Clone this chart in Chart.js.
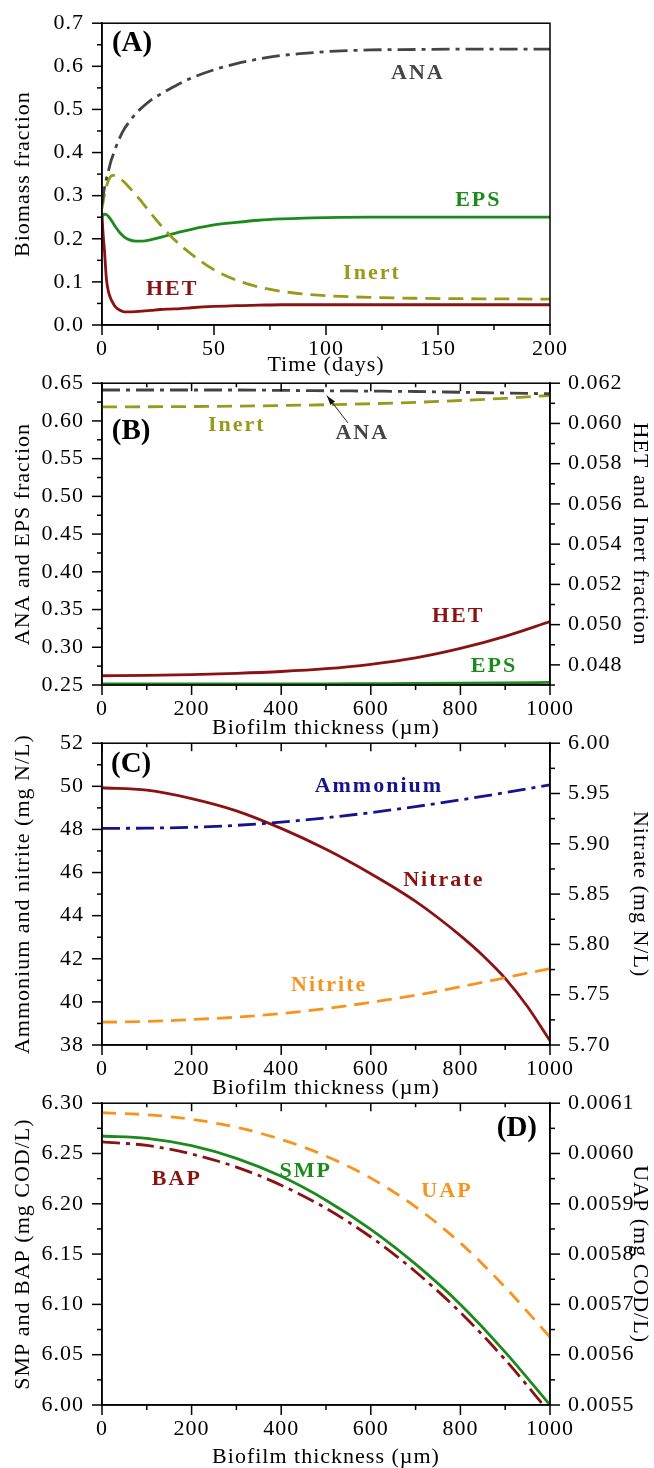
<!DOCTYPE html>
<html>
<head>
<meta charset="utf-8">
<script src="https://cdn.jsdelivr.net/npm/chart.js@4.4.1/dist/chart.umd.min.js"></script>
<style>
  html, body { margin: 0; padding: 0; background: #fff; }
  body { width: 654px; height: 1468px; position: relative; overflow: hidden; }
  .panel { position: absolute; left: 0; width: 654px; }
</style>
</head>
<body>
<div class="panel" style="top:0px;height:385px"><canvas id="chartA"></canvas></div>
<div class="panel" style="top:360px;height:385px"><canvas id="chartB"></canvas></div>
<div class="panel" style="top:720px;height:385px"><canvas id="chartC"></canvas></div>
<div class="panel" style="top:1080px;height:388px"><canvas id="chartD"></canvas></div>
<script>
const FONT = '"Liberation Serif", "Times New Roman", serif';

// (A) biomass fractions over time
const timeA  = [0, 0.5, 1, 2, 3, 4, 5, 6, 8, 10, 12, 15, 18, 22, 26, 30, 35, 40, 50, 60, 70, 80, 90, 100, 120, 140, 160, 180, 200];
const anaA   = [0.28, 0.30, 0.315, 0.34, 0.36, 0.38, 0.395, 0.41, 0.435, 0.455, 0.47, 0.49, 0.505, 0.522, 0.535, 0.547, 0.561, 0.573, 0.592, 0.606, 0.617, 0.625, 0.63, 0.634, 0.638, 0.639, 0.64, 0.64, 0.64];
const epsA   = [0.25, 0.255, 0.257, 0.256, 0.251, 0.244, 0.236, 0.228, 0.214, 0.204, 0.198, 0.1945, 0.1945, 0.198, 0.203, 0.209, 0.216, 0.222, 0.232, 0.238, 0.243, 0.246, 0.248, 0.249, 0.25, 0.25, 0.25, 0.25, 0.25];
const hetA   = [0.255, 0.21, 0.18, 0.105, 0.075, 0.06, 0.05, 0.042, 0.034, 0.0305, 0.0305, 0.031, 0.032, 0.034, 0.036, 0.037, 0.038, 0.04, 0.043, 0.045, 0.046, 0.047, 0.047, 0.047, 0.047, 0.047, 0.047, 0.047, 0.047];
const inertA = [0.27, 0.285, 0.3, 0.322, 0.337, 0.345, 0.347, 0.346, 0.34, 0.331, 0.32, 0.303, 0.284, 0.258, 0.233, 0.21, 0.185, 0.164, 0.128, 0.104, 0.088, 0.078, 0.072, 0.068, 0.064, 0.062, 0.061, 0.0605, 0.06];

// (B)-(D) profiles along biofilm thickness
const depth = [0, 100, 200, 300, 400, 500, 600, 700, 800, 900, 1000];
const anaB   = [0.641, 0.641, 0.641, 0.641, 0.6405, 0.640, 0.6395, 0.639, 0.638, 0.637, 0.636];
const epsB   = [0.2513, 0.2513, 0.2513, 0.2514, 0.2515, 0.2516, 0.2518, 0.252, 0.2523, 0.2528, 0.2535];
const hetB   = [0.04746, 0.04748, 0.04752, 0.04758, 0.04767, 0.04781, 0.04803, 0.04835, 0.04882, 0.04942, 0.05015];
const inertB = [0.06082, 0.06083, 0.06084, 0.06086, 0.06089, 0.06093, 0.06098, 0.06105, 0.06114, 0.06125, 0.06139];

const ammoniumC = [48.05, 48.06, 48.10, 48.19, 48.34, 48.54, 48.78, 49.06, 49.37, 49.71, 50.07];
const nitriteC  = [39.06, 39.09, 39.18, 39.29, 39.46, 39.69, 39.98, 40.31, 40.70, 41.12, 41.55];
const depthNitrate = [0, 100, 200, 300, 400, 500, 600, 650, 700, 750, 800, 850, 900, 950, 1000];
const nitrateC  = [5.9557, 5.9533, 5.945, 5.9328, 5.9153, 5.8945, 5.8703, 5.857, 5.8427, 5.8265, 5.8087, 5.789, 5.7662, 5.738, 5.7042];

const smpD = [6.2674, 6.2651, 6.2578, 6.2452, 6.2273, 6.2036, 6.1746, 6.140, 6.100, 6.0526, 6.0];
const bapD = [6.2615, 6.258, 6.2495, 6.2365, 6.2185, 6.1955, 6.167, 6.1325, 6.092, 6.045, 5.992];
const uapD = [0.006081, 0.006077, 0.006068, 0.006052, 0.006028, 0.005995, 0.005951, 0.005894, 0.005822, 0.005734, 0.005635];

const C_ANA = '#444444', C_EPS = '#1d8a1d', C_HET = '#8a1212', C_INERT = '#9a9a1a';
const C_NH4 = '#14148c', C_NO2 = '#f7941e';
const DASH = [15, 8], DASHDOT = [18, 6, 4, 6];

Chart.defaults.font.family = FONT;
Chart.defaults.font.size = 22;
Chart.defaults.color = '#000';

function pts(xs, ys) { return xs.map((x, i) => ({ x: x, y: ys[i] })); }

function series(label, xs, ys, color, dash, axis) {
  return {
    label: label, data: pts(xs, ys), borderColor: color, borderWidth: 2.8,
    borderDash: dash || [], pointRadius: 0, cubicInterpolationMode: 'monotone',
    yAxisID: axis || 'y', fill: false
  };
}

function xScale(min, max, step, title, titlePad, height) {
  return {
    type: 'linear', min: min, max: max,
    ticks: { stepSize: step, padding: 3, maxRotation: 0, autoSkip: false, includeBounds: false,
             callback: v => v.toFixed(0) },
    grid: { display: false },
    border: { display: true, color: '#000', width: 1.5 },
    title: { display: true, text: title, font: { size: 22, lineHeight: 1 }, padding: { top: 0, bottom: titlePad } },
    afterFit: s => { s.height = height; }
  };
}

function yScale(position, min, max, step, digits, title, titlePad, width) {
  return {
    type: 'linear', position: position, min: min, max: max,
    ticks: { stepSize: step, padding: 10, autoSkip: false, includeBounds: false,
             callback: v => v.toFixed(digits) },
    grid: { display: false },
    border: { display: true, color: '#000', width: 1.5 },
    title: { display: true, text: title, font: { size: 22, lineHeight: 1 }, padding: { top: titlePad, bottom: 0 } },
    afterFit: s => { s.width = width; }
  };
}

// letter spacing similar to the original typesetting
const spacing = {
  id: 'spacing',
  beforeDraw(chart) { chart.ctx.letterSpacing = '1px'; }
};

// box around the plot plus major/minor tick marks
const frameTicks = {
  id: 'frameTicks',
  afterDraw(chart, args, opts) {
    const { ctx, chartArea: a } = chart;
    ctx.save();
    ctx.strokeStyle = '#000';
    ctx.lineWidth = 1.5;
    ctx.strokeRect(a.left, a.top, a.right - a.left, a.bottom - a.top);
    (opts.marks || []).forEach(m => {
      const s = chart.scales[m.scale];
      const n0 = Math.ceil(s.min / m.minor - 1e-6), n1 = Math.floor(s.max / m.minor + 1e-6);
      const ratio = Math.round(m.major / m.minor);
      for (let n = n0; n <= n1; n++) {
        const len = (n % ratio === 0) ? 10 : 5;
        const p = s.getPixelForValue(n * m.minor);
        ctx.beginPath();
        if (m.side === 'bottom') { ctx.moveTo(p, a.bottom); ctx.lineTo(p, a.bottom + len); }
        if (m.side === 'top') { ctx.moveTo(p, a.top); ctx.lineTo(p, a.top + len * 0.8); }
        if (m.side === 'left') { ctx.moveTo(a.left, p); ctx.lineTo(a.left - len, p); }
        if (m.side === 'right') { ctx.moveTo(a.right, p); ctx.lineTo(a.right + len, p); }
        ctx.stroke();
      }
    });
    ctx.restore();
  }
};

// curve names, panel letters and the arrow in (B)
const textLabels = {
  id: 'textLabels',
  afterDatasetsDraw(chart, args, opts) {
    const ctx = chart.ctx;
    const sx = chart.scales.x;
    ctx.save();
    (opts.items || []).forEach(it => {
      const sy = chart.scales[it.axis || 'y'];
      ctx.font = 'bold ' + (it.size || 22) + 'px ' + FONT;
      ctx.letterSpacing = (it.spacing === undefined ? 2 : it.spacing) + 'px';
      ctx.fillStyle = it.color || '#000';
      ctx.textAlign = 'center';
      ctx.textBaseline = 'middle';
      ctx.fillText(it.text, sx.getPixelForValue(it.x), sy.getPixelForValue(it.y));
    });
    (opts.arrows || []).forEach(ar => {
      const sy = chart.scales.y;
      const x1 = sx.getPixelForValue(ar.from[0]), y1 = sy.getPixelForValue(ar.from[1]);
      const x2 = sx.getPixelForValue(ar.to[0]), y2 = sy.getPixelForValue(ar.to[1]);
      const ang = Math.atan2(y2 - y1, x2 - x1);
      ctx.strokeStyle = '#222';
      ctx.fillStyle = '#111';
      ctx.lineWidth = 1;
      ctx.beginPath(); ctx.moveTo(x1, y1); ctx.lineTo(x2, y2); ctx.stroke();
      ctx.beginPath();
      ctx.moveTo(x2, y2);
      ctx.lineTo(x2 - 10 * Math.cos(ang - 0.3), y2 - 10 * Math.sin(ang - 0.3));
      ctx.lineTo(x2 - 10 * Math.cos(ang + 0.3), y2 - 10 * Math.sin(ang + 0.3));
      ctx.closePath(); ctx.fill();
    });
    ctx.restore();
  }
};

function makeChart(id, datasets, scales, padding, marks, items, arrows) {
  new Chart(document.getElementById(id), {
    type: 'line',
    data: { datasets: datasets },
    options: {
      responsive: true,
      maintainAspectRatio: false,
      animation: false,
      layout: { padding: padding },
      scales: scales,
      plugins: {
        legend: { display: false },
        tooltip: { enabled: false },
        frameTicks: { marks: marks },
        textLabels: { items: items, arrows: arrows || [] }
      }
    },
    plugins: [spacing, frameTicks, textLabels]
  });
}

// (A)
makeChart('chartA',
  [
    series('ANA', timeA, anaA, C_ANA, DASHDOT),
    series('Inert', timeA, inertA, C_INERT, DASH),
    series('EPS', timeA, epsA, C_EPS),
    series('HET', timeA, hetA, C_HET)
  ],
  {
    x: xScale(0, 200, 50, 'Time (days)', 9, 60),
    y: yScale('left', 0, 0.7, 0.1, 1, 'Biomass fraction', 12, 102)
  },
  { top: 20, right: 104, left: 0, bottom: 0 },
  [
    { scale: 'x', side: 'bottom', major: 50, minor: 25 },
    { scale: 'y', side: 'left', major: 0.1, minor: 0.05 }
  ],
  [
    { text: '(A)', x: 13.4, y: 0.652, size: 29, spacing: 0 },
    { text: 'ANA', x: 141, y: 0.583, color: C_ANA },
    { text: 'EPS', x: 168, y: 0.289, color: C_EPS },
    { text: 'Inert', x: 120.5, y: 0.119, color: C_INERT },
    { text: 'HET', x: 31.3, y: 0.083, color: C_HET }
  ]
);

// (B)
makeChart('chartB',
  [
    series('ANA', depth, anaB, C_ANA, DASHDOT, 'y'),
    series('Inert', depth, inertB, C_INERT, DASH, 'y2'),
    series('HET', depth, hetB, C_HET, [], 'y2'),
    series('EPS', depth, epsB, C_EPS, [], 'y')
  ],
  {
    x: xScale(0, 1000, 200, 'Biofilm thickness (\u00b5m)', 6, 60),
    y: yScale('left', 0.25, 0.65, 0.05, 2, 'ANA and EPS fraction', 12, 102),
    y2: yScale('right', 0.047, 0.062, 0.002, 3, 'HET and Inert fraction', 3, 104)
  },
  { top: 21, right: 0, left: 0, bottom: 0 },
  [
    { scale: 'x', side: 'bottom', major: 200, minor: 100 },
    { scale: 'x', side: 'top', major: 200, minor: 100 },
    { scale: 'y', side: 'left', major: 0.05, minor: 0.025 },
    { scale: 'y2', side: 'right', major: 0.002, minor: 0.001 }
  ],
  [
    { text: '(B)', x: 65, y: 0.5855, size: 29, spacing: 0 },
    { text: 'Inert', x: 301, y: 0.5947, color: C_INERT },
    { text: 'ANA', x: 581, y: 0.583, color: C_ANA },
    { text: 'HET', x: 795, y: 0.3408, color: C_HET },
    { text: 'EPS', x: 875, y: 0.275, color: C_EPS }
  ],
  [ { from: [549, 0.5974], to: [502, 0.6335] } ]
);

// (C)
makeChart('chartC',
  [
    series('Ammonium', depth, ammoniumC, C_NH4, DASHDOT, 'y'),
    series('Nitrite', depth, nitriteC, C_NO2, DASH, 'y'),
    series('Nitrate', depthNitrate, nitrateC, C_HET, [], 'y2')
  ],
  {
    x: xScale(0, 1000, 200, 'Biofilm thickness (\u00b5m)', 6, 60),
    y: yScale('left', 38, 52, 2, 0, 'Ammonium and nitrite (mg N/L)', 12, 102),
    y2: yScale('right', 5.70, 6.00, 0.05, 2, 'Nitrate (mg N/L)', 3, 104)
  },
  { top: 21, right: 0, left: 0, bottom: 0 },
  [
    { scale: 'x', side: 'bottom', major: 200, minor: 100 },
    { scale: 'x', side: 'top', major: 200, minor: 100 },
    { scale: 'y', side: 'left', major: 2, minor: 1 },
    { scale: 'y2', side: 'right', major: 0.05, minor: 0.025 }
  ],
  [
    { text: '(C)', x: 65, y: 50.99, size: 29, spacing: 0 },
    { text: 'Ammonium', x: 618, y: 49.98, color: C_NH4 },
    { text: 'Nitrate', x: 763, y: 45.65, color: C_HET },
    { text: 'Nitrite', x: 507, y: 40.76, color: C_NO2 }
  ]
);

// (D)
makeChart('chartD',
  [
    series('UAP', depth, uapD, C_NO2, [14, 9], 'y2'),
    series('BAP', depth, bapD, C_HET, DASHDOT, 'y'),
    series('SMP', depth, smpD, C_EPS, [], 'y')
  ],
  {
    x: xScale(0, 1000, 200, 'Biofilm thickness (\u00b5m)', 0, 63),
    y: yScale('left', 6.00, 6.30, 0.05, 2, 'SMP and BAP (mg COD/L)', 12, 102),
    y2: yScale('right', 0.0055, 0.0061, 0.0001, 4, 'UAP (mg COD/L)', 3, 104)
  },
  { top: 21, right: 0, left: 0, bottom: 0 },
  [
    { scale: 'x', side: 'bottom', major: 200, minor: 100 },
    { scale: 'x', side: 'top', major: 200, minor: 100 },
    { scale: 'y', side: 'left', major: 0.05, minor: 0.025 },
    { scale: 'y2', side: 'right', major: 0.0001, minor: 0.00005 }
  ],
  [
    { text: '(D)', x: 926, y: 6.2744, size: 29, spacing: 0 },
    { text: 'SMP', x: 455, y: 6.232, color: C_EPS },
    { text: 'BAP', x: 167, y: 6.224, color: C_HET },
    { text: 'UAP', x: 770, y: 6.212, color: C_NO2 }
  ]
);
</script>
</body>
</html>
